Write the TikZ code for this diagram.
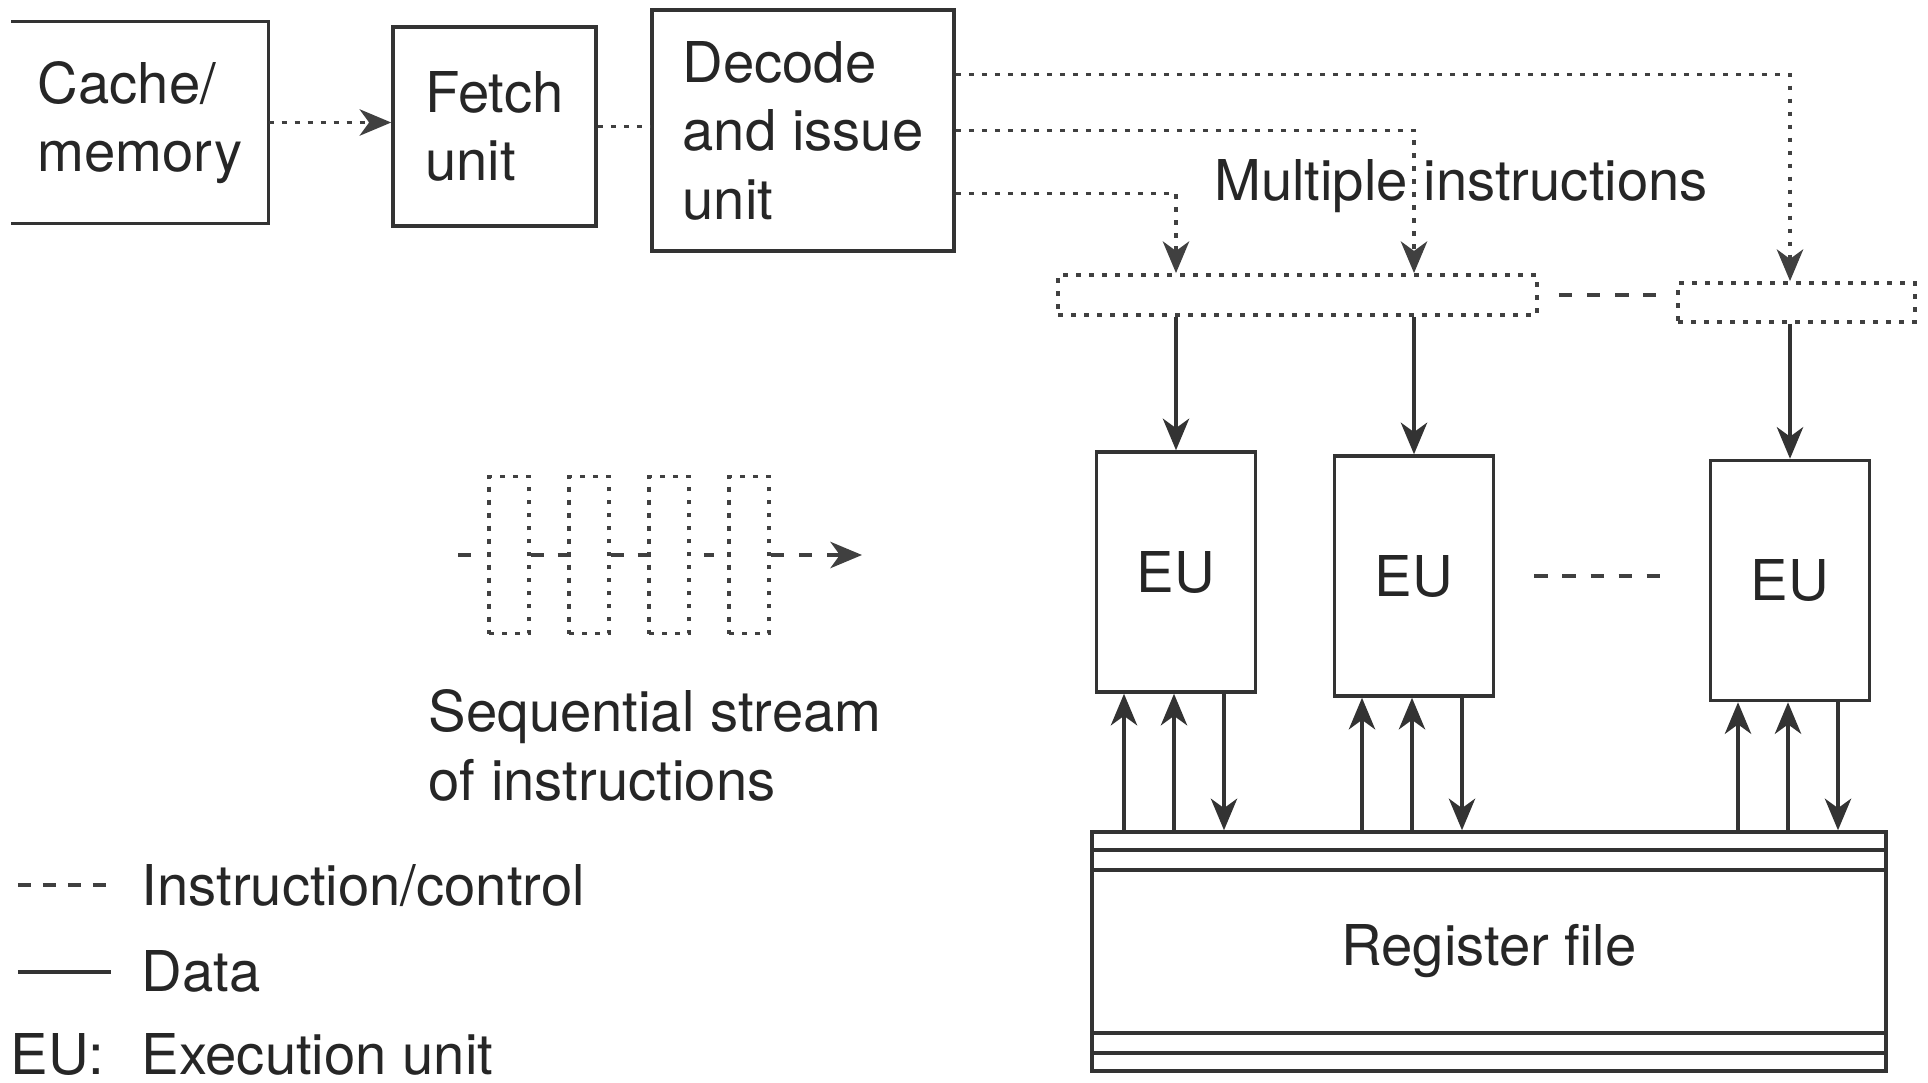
\documentclass[tikz,border=0pt]{standalone}
\usepackage{fontspec}
\setmainfont{TeX Gyre Heros}
\usetikzlibrary{arrows.meta, positioning, calc}

\begin{document}
\begin{tikzpicture}[
    font=\fontsize{16}{19.5}\selectfont,
    every node/.style={text=black!85},
    unit/.style={draw=black!80, line width=1pt, inner sep=0pt, align=left},
    eu/.style={unit, minimum width=1.59cm, minimum height=2.4cm},
    ctrl/.style={draw=black!75, line width=1.1pt, dash pattern=on 1.4pt off 2.3pt},
    ctrldash/.style={draw=black!75, line width=1pt, dash pattern=on 3.8pt off 4.2pt},
    data/.style={draw=black!80, line width=0.9pt},
    >={Stealth[length=9pt, width=7.5pt, inset=2.7pt]}
    ]
    \useasboundingbox (0,-10.82) rectangle (19.28,0);

    % front end
    \node[inner sep=0pt, minimum width=2.56cm, minimum height=2.01cm, align=left] (cache) at (1.40,-1.225) {Cache/\\memory};
    \draw[data, line width=1pt] (cache.north west) -- (cache.north east) -- (cache.south east) -- (cache.south west);
    \node[unit, minimum width=2.03cm, minimum height=1.99cm] (fetch) at (4.945,-1.265) {Fetch\\unit};
    \node[unit, minimum width=3.02cm, minimum height=2.41cm] (decode) at (8.03,-1.305) {Decode\\and issue\\unit};
    \draw[ctrl, ->] (cache.east) -- (cache.east -| fetch.west);
    \draw[ctrl] (fetch.east) -- (fetch.east -| decode.west);

    % execution units
    \node[eu] (eu1) at (11.76,-5.72) {EU};
    \node[eu] (eu2) at (14.14,-5.76) {EU};
    \node[eu] (eu3) at (17.90,-5.805) {EU};
    \draw[ctrldash, shorten <=3.9mm, shorten >=4.9mm] (eu2.east) -- (eu2.east -| eu3.west);

    % issue buffers
    \node[ctrl, minimum width=4.79cm, minimum height=0.40cm] (buf) at (12.975,-2.95) {};
    \node[ctrl, minimum width=2.37cm, minimum height=0.39cm] (bufn) at (17.965,-3.025) {};
    \draw[ctrldash, shorten <=2mm, shorten >=2mm] (buf.east) -- (buf.east -| bufn.west);

    \draw[ctrl, ->] ([yshift=5.6mm]decode.east) -| (bufn.north -| eu3.north);
    \draw[ctrl, ->] (decode.east) -| (buf.north -| eu2.north);
    \draw[ctrl, ->] ([yshift=-6.3mm]decode.east) -| (buf.north -| eu1.north);
    \node[anchor=base] (multi) at (14.61,-2.00) {Multiple instructions};

    \draw[data, ->] (buf.south -| eu1.north) -- (eu1.north);
    \draw[data, ->] (buf.south -| eu2.north) -- (eu2.north);
    \draw[data, ->] (bufn.south -| eu3.north) -- (eu3.north);

    % register file
    \node[unit, minimum width=7.94cm, minimum height=2.39cm] (reg) at (14.89,-9.515) {Register file};
    \foreach \d in {2mm,4mm} {
        \draw[data, line width=1pt] ([yshift=-\d]reg.north west) -- ([yshift=-\d]reg.north east);
        \draw[data, line width=1pt] ([yshift=\d]reg.south west) -- ([yshift=\d]reg.south east);
    }
    \foreach \e in {eu1,eu2,eu3} {
        \draw[data, ->] ([xshift=-5.2mm]\e.south |- reg.north) -- ([xshift=-5.2mm]\e.south);
        \draw[data, ->] ([xshift=-0.2mm]\e.south |- reg.north) -- ([xshift=-0.2mm]\e.south);
        \draw[data, ->] ([xshift=4.8mm]\e.south) -- ([xshift=4.8mm]\e.south |- reg.north);
    }

    % sequential stream
    \foreach \i/\x in {1/5.09, 2/5.89, 3/6.69, 4/7.49}
        \node[ctrl, minimum width=0.40cm, minimum height=1.57cm] (q\i) at (\x,-5.55) {};
    \coordinate (qin) at (4.58,-5.55);
    \coordinate (qout) at (8.62,-5.55);
    \draw[ctrldash, shorten >=1.2mm] (qin) -- (q1);
    \draw[ctrldash, shorten <=1.3mm, shorten >=1.3mm, dash pattern=on 3.6pt off 4pt] (q1) -- (q2) (q2) -- (q3) (q3) -- (q4);
    \draw[ctrldash, ->] (q4) -- (qout);
    \node[anchor=north west, inner sep=0pt, align=left] (seq) at (4.28,-6.89) {Sequential stream\\of instructions};

    % legend
    \draw[ctrldash, dash pattern=on 3.7pt off 3.4pt] (0.18,-8.85) -- (1.11,-8.85);
    \draw[data] (0.18,-9.72) -- (1.11,-9.72);
    \node[anchor=base west, inner sep=0pt] (lgctrl) at (1.41,-9.05) {Instruction/control};
    \node[anchor=base west, inner sep=0pt] (lgdata) at (1.41,-9.91) {Data};
    \node[anchor=base west, inner sep=0pt] (lgeu) at (0.10,-10.74) {\makebox[1.31cm][l]{EU:}Execution unit};
\end{tikzpicture}
\end{document}
